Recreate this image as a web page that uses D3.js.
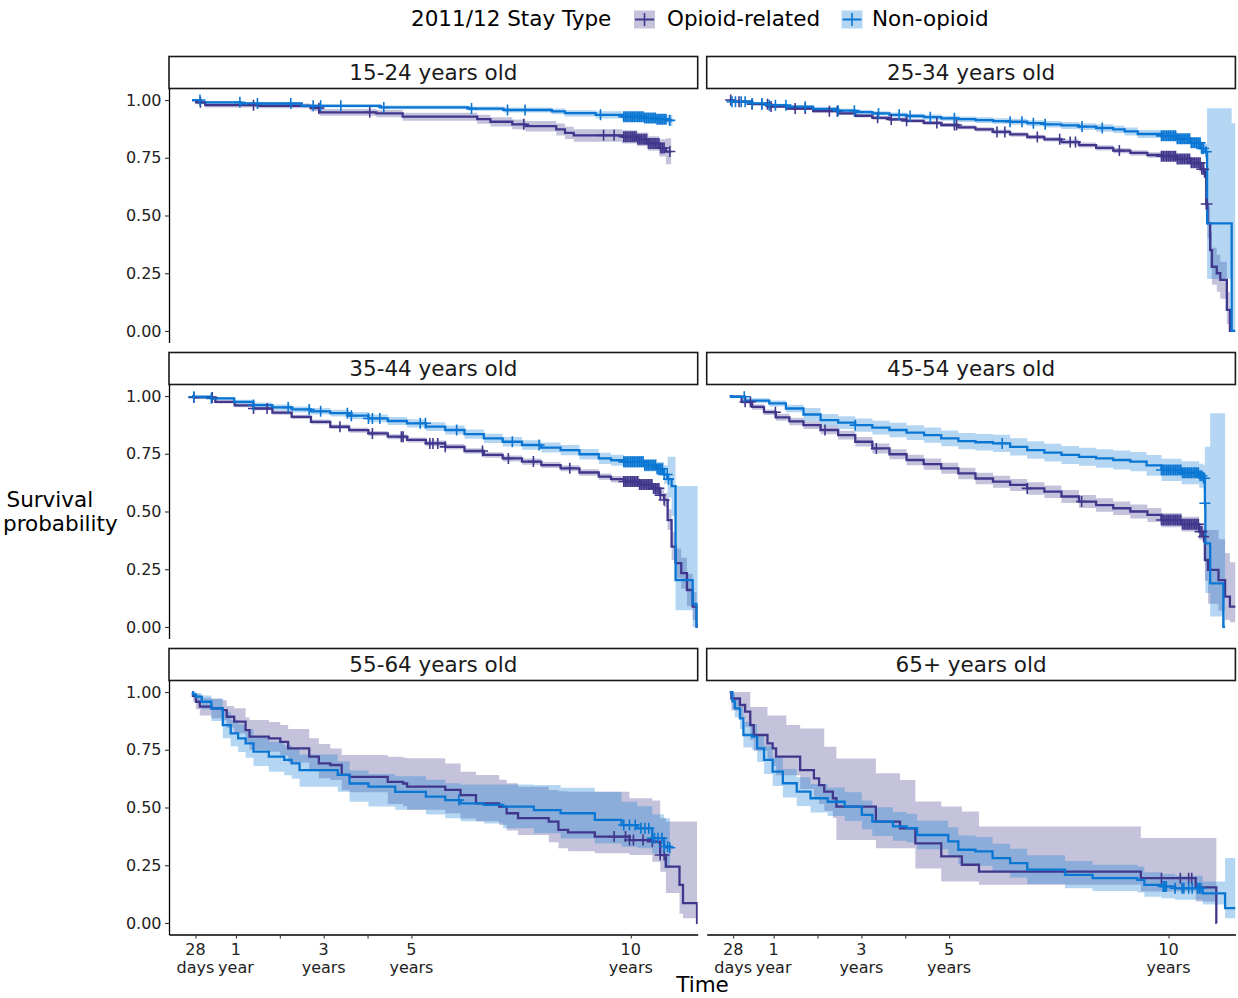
<!DOCTYPE html>
<html><head><meta charset="utf-8">
<script src="https://cdn.jsdelivr.net/npm/d3@7"></script>
<style>body{margin:0;background:#fff} svg{display:block;font-family:"DejaVu Sans",sans-serif}</style>
</head><body><svg id="chart" width="1238" height="998"></svg>
<script>
// ---------------- DATA ----------------
const ageGroups = ["15-24 years old","25-34 years old","35-44 years old","45-54 years old","55-64 years old","65+ years old"];
const seriesNames = ["Opioid-related","Non-opioid"];
const legendTitle = "2011/12 Stay Type";
const yTickValues = [0, 0.25, 0.5, 0.75, 1];
const yTickLabels = ["0.00","0.25","0.50","0.75","1.00"];
const xTickValues = [28/365.25, 1, 2, 3, 4, 5, 10];   // years
const xTickLabels = [["28","days"],["1","year"],["",""],["3","years"],["",""],["5","years"],["10","years"]];

// rows: [time (years), survival, lower CI, upper CI]
const opioid_15_24 = [
 [0,1,1,1],[0.1,0.990,0.982,0.996],[0.3,0.978,0.968,0.988],[1.5,0.975,0.964,0.985],[2.7,0.965,0.952,0.977],
 [2.9,0.947,0.932,0.961],[4.2,0.942,0.926,0.957],[4.8,0.928,0.910,0.945],[6.5,0.917,0.897,0.936],[6.8,0.906,0.885,0.926],
 [7.3,0.895,0.873,0.916],[7.6,0.887,0.864,0.909],[8.3,0.873,0.847,0.898],[8.5,0.858,0.831,0.884],[8.7,0.847,0.819,0.874],
 [9.8,0.841,0.812,0.869],[10.15,0.830,0.800,0.859],[10.4,0.812,0.780,0.843],[10.65,0.792,0.755,0.830],[10.8,0.777,0.722,0.835],[10.92,0.777,0.722,0.835]];
const nonopioid_15_24 = [
 [0,1,1,1],[0.2,0.990,0.985,0.995],[1.1,0.985,0.979,0.990],[2.5,0.975,0.968,0.982],[4.3,0.968,0.960,0.976],
 [6.3,0.963,0.954,0.972],[7.1,0.957,0.946,0.968],[8.2,0.951,0.938,0.963],[8.5,0.943,0.929,0.956],[9.2,0.936,0.920,0.951],
 [9.8,0.928,0.911,0.944],[10.3,0.922,0.903,0.939],[10.6,0.917,0.896,0.936],[10.85,0.912,0.888,0.935],[10.95,0.912,0.888,0.935]];
const censOpioid_15_24 = [0.19,1.40,2.89,4.05,7.56,9.38,9.62,9.84,9.88,9.92,9.96,10.00,10.04,10.08,10.12,10.16,10.20,10.24,10.28,10.32,10.36,10.40,10.44,10.48,10.52,10.56,10.60,10.64,10.68,10.72,10.76,10.89];
const censNonopioid_15_24 = [0.18,1.09,1.49,2.25,2.76,2.93,3.39,4.37,6.37,7.19,7.59,9.31,9.84,9.88,9.92,9.96,10.00,10.04,10.08,10.12,10.16,10.20,10.24,10.28,10.32,10.36,10.40,10.44,10.48,10.52,10.56,10.60,10.64,10.68,10.72,10.76,10.80,10.89];

const opioid_25_34 = [
 [0,1,1,1],[0.05,0.993,0.989,0.997],[0.51,0.982,0.977,0.987],[0.9,0.972,0.967,0.977],[1.29,0.963,0.957,0.969],[1.9,0.952,0.945,0.959],
 [2.47,0.942,0.935,0.949],[2.86,0.932,0.924,0.940],[3.25,0.923,0.915,0.931],[3.64,0.916,0.908,0.924],[4.03,0.910,0.902,0.918],
 [4.42,0.901,0.892,0.910],[4.82,0.892,0.883,0.901],[5.21,0.882,0.873,0.891],[5.6,0.873,0.864,0.882],[6.0,0.862,0.852,0.872],
 [6.39,0.851,0.841,0.861],[6.78,0.840,0.830,0.850],[7.17,0.830,0.820,0.840],[7.56,0.818,0.807,0.829],[7.96,0.805,0.794,0.816],
 [8.35,0.793,0.782,0.804],[8.74,0.781,0.770,0.792],[9.13,0.771,0.759,0.783],[9.52,0.762,0.750,0.774],[9.84,0.757,0.745,0.769],
 [10.2,0.745,0.732,0.758],[10.5,0.728,0.714,0.742],[10.73,0.700,0.684,0.716],[10.83,0.668,0.640,0.696],[10.86,0.550,0.500,0.610],
 [10.89,0.467,0.400,0.540],[10.95,0.350,0.270,0.430],[10.99,0.278,0.200,0.360],[11.10,0.250,0.170,0.330],[11.18,0.221,0.140,0.300],
 [11.33,0.091,0.030,0.170],[11.40,0,0,0],[11.42,0,0,0]];
const nonopioid_25_34 = [
 [0,1,1,1],[0.05,0.993,0.988,0.997],[0.51,0.985,0.979,0.990],[0.9,0.978,0.972,0.984],[1.29,0.971,0.964,0.978],[1.9,0.962,0.955,0.969],
 [2.47,0.954,0.946,0.962],[2.86,0.948,0.939,0.957],[3.25,0.942,0.933,0.951],[3.64,0.936,0.926,0.946],[4.03,0.931,0.921,0.941],
 [4.42,0.926,0.915,0.937],[4.82,0.921,0.910,0.932],[5.21,0.917,0.905,0.929],[5.6,0.913,0.901,0.925],[6.0,0.909,0.897,0.921],
 [6.39,0.906,0.893,0.919],[6.78,0.900,0.887,0.913],[7.17,0.895,0.881,0.909],[7.56,0.890,0.875,0.905],[7.96,0.885,0.870,0.900],
 [8.35,0.879,0.863,0.895],[8.74,0.873,0.857,0.889],[9.0,0.864,0.847,0.881],[9.3,0.853,0.836,0.870],[9.84,0.845,0.827,0.863],
 [10.2,0.832,0.812,0.852],[10.5,0.815,0.793,0.837],[10.73,0.790,0.765,0.815],[10.85,0.776,0.740,0.810],[10.88,0.466,0.225,0.965],
 [11.44,0,0,0.900],[11.53,0,0,0.900]];
const censOpioid_25_34 = [0.02,0.21,0.51,0.73,0.86,0.94,1.49,1.72,2.27,2.45,3.37,3.68,4.03,4.72,5.12,5.17,6.09,6.27,7.01,7.52,7.76,7.88,8.88,9.84,9.88,9.92,9.96,10.00,10.04,10.08,10.12,10.16,10.20,10.24,10.28,10.32,10.36,10.40,10.44,10.48,10.52,10.56,10.60,10.64,10.68,10.72,10.76,10.80,10.86,10.88];
const censNonopioid_25_34 = [0.05,0.13,0.26,0.35,0.51,0.73,0.90,1.04,1.28,1.72,2.47,2.84,3.39,3.86,4.11,4.57,5.12,6.39,6.66,6.92,7.19,8.03,8.49,9.84,9.88,9.92,9.96,10.00,10.04,10.08,10.12,10.16,10.20,10.24,10.28,10.32,10.36,10.40,10.44,10.48,10.52,10.56,10.60,10.64,10.68,10.72,10.76,10.80,10.86];

const opioid_35_44 = [
 [0,1,1,1],[0.04,0.994,0.989,0.998],[0.53,0.975,0.968,0.982],[0.97,0.960,0.952,0.968],[1.4,0.946,0.938,0.954],[1.83,0.928,0.919,0.937],
 [2.27,0.910,0.901,0.919],[2.71,0.888,0.878,0.898],[3.15,0.867,0.857,0.877],[3.58,0.852,0.841,0.863],[4.02,0.838,0.827,0.849],
 [4.46,0.824,0.813,0.835],[4.9,0.810,0.799,0.821],[5.33,0.795,0.783,0.807],[5.77,0.780,0.768,0.792],[6.21,0.762,0.750,0.774],
 [6.65,0.745,0.733,0.757],[7.08,0.730,0.717,0.743],[7.52,0.716,0.703,0.729],[7.96,0.701,0.688,0.714],[8.4,0.687,0.674,0.700],
 [8.83,0.669,0.655,0.683],[9.27,0.651,0.637,0.665],[9.55,0.640,0.626,0.654],[9.84,0.630,0.616,0.644],[10.2,0.617,0.602,0.632],
 [10.5,0.600,0.583,0.617],[10.67,0.571,0.550,0.592],[10.76,0.550,0.520,0.580],[10.84,0.463,0.420,0.510],[10.93,0.348,0.290,0.410],
 [11.02,0.276,0.210,0.340],[11.15,0.233,0.165,0.300],[11.28,0.160,0.090,0.230],[11.41,0.088,0.030,0.150],[11.50,0,0,0],[11.53,0,0,0]];
const nonopioid_35_44 = [
 [0,1,1,1],[0.04,0.997,0.993,1.0],[0.44,0.990,0.983,0.996],[0.96,0.975,0.966,0.984],[1.40,0.961,0.950,0.972],[1.83,0.951,0.939,0.963],
 [2.27,0.942,0.929,0.955],[2.71,0.934,0.920,0.948],[3.15,0.926,0.911,0.941],[3.58,0.915,0.899,0.931],[4.02,0.903,0.886,0.920],
 [4.46,0.892,0.875,0.909],[4.9,0.882,0.864,0.900],[5.33,0.868,0.849,0.887],[5.77,0.853,0.834,0.872],[6.21,0.835,0.815,0.855],
 [6.65,0.817,0.797,0.837],[7.08,0.802,0.781,0.823],[7.52,0.788,0.767,0.809],[7.96,0.777,0.755,0.799],[8.4,0.766,0.744,0.788],
 [8.83,0.748,0.725,0.771],[9.27,0.730,0.706,0.754],[9.55,0.722,0.698,0.746],[9.84,0.715,0.690,0.740],
 [10.3,0.700,0.673,0.727],[10.6,0.685,0.656,0.714],[10.76,0.660,0.620,0.700],[10.84,0.640,0.560,0.737],[10.93,0.610,0.480,0.737],
 [11.02,0.203,0.072,0.610],[11.41,0.100,0,0.610],[11.50,0,0,0.610],[11.53,0,0,0.610]];
const censOpioid_35_44 = [0.04,0.46,1.40,1.71,3.37,4.11,4.77,4.81,5.42,5.49,5.60,5.77,6.62,7.21,7.78,8.61,9.84,9.88,9.92,9.96,10.00,10.04,10.08,10.12,10.16,10.20,10.24,10.28,10.32,10.36,10.40,10.44,10.48,10.52,10.56,10.60,10.64,10.67,10.76];
const censNonopioid_35_44 = [0.04,0.44,1.40,2.19,2.67,2.93,3.54,3.63,4.02,4.11,4.28,5.20,5.32,6.03,7.30,7.91,9.84,9.88,9.92,9.96,10.00,10.04,10.08,10.12,10.16,10.20,10.24,10.28,10.32,10.36,10.40,10.44,10.48,10.52,10.56,10.60,10.64,10.68,10.72,10.76,10.83,10.86];

const opioid_45_54 = [
 [0,1,1,1],[0.04,0.997,0.993,1.0],[0.27,0.975,0.967,0.983],[0.51,0.953,0.941,0.965],[0.78,0.930,0.918,0.942],[1.05,0.908,0.893,0.923],
 [1.36,0.890,0.874,0.906],[1.68,0.874,0.857,0.891],[2.07,0.853,0.835,0.871],[2.47,0.831,0.812,0.850],[2.86,0.802,0.781,0.823],
 [3.25,0.773,0.751,0.795],[3.64,0.748,0.726,0.770],[4.03,0.723,0.700,0.746],[4.42,0.705,0.681,0.729],[4.82,0.687,0.663,0.711],
 [5.21,0.665,0.640,0.690],[5.6,0.643,0.618,0.668],[6.0,0.629,0.603,0.655],[6.39,0.615,0.589,0.641],[6.78,0.600,0.573,0.627],
 [7.17,0.586,0.559,0.613],[7.56,0.565,0.537,0.593],[7.96,0.543,0.515,0.571],[8.35,0.528,0.499,0.557],[8.74,0.514,0.485,0.543],
 [9.13,0.500,0.470,0.530],[9.52,0.485,0.455,0.515],[9.84,0.463,0.432,0.494],[10.3,0.445,0.413,0.477],[10.7,0.413,0.378,0.448],
 [10.80,0.391,0.350,0.432],[10.83,0.290,0.200,0.420],[10.90,0.247,0.100,0.420],[11.14,0.203,0.070,0.380],[11.29,0.131,0.030,0.320],
 [11.40,0.088,0.020,0.280],[11.53,0.088,0.020,0.280]];
const nonopioid_45_54 = [
 [0,1,1,1],[0.04,0.997,0.994,1.0],[0.35,0.980,0.970,0.990],[0.9,0.968,0.955,0.981],[1.28,0.946,0.930,0.962],[1.68,0.920,0.892,0.948],
 [2.07,0.896,0.870,0.922],[2.47,0.885,0.857,0.913],[2.86,0.874,0.845,0.903],[3.25,0.863,0.833,0.893],[3.64,0.853,0.822,0.884],
 [4.03,0.842,0.810,0.874],[4.43,0.831,0.798,0.864],[4.82,0.817,0.783,0.851],[5.21,0.805,0.770,0.840],[5.6,0.800,0.764,0.836],
 [6.0,0.795,0.758,0.832],[6.39,0.780,0.743,0.817],[6.78,0.766,0.728,0.804],[7.17,0.755,0.717,0.793],[7.56,0.745,0.706,0.784],
 [7.96,0.737,0.698,0.776],[8.35,0.730,0.690,0.770],[8.74,0.723,0.682,0.764],[9.13,0.716,0.674,0.758],[9.5,0.700,0.655,0.745],
 [9.84,0.680,0.632,0.728],[10.3,0.668,0.618,0.718],[10.7,0.655,0.603,0.707],[10.80,0.644,0.590,0.700],
 [10.83,0.536,0.300,0.780],[10.84,0.362,0.147,0.780],[10.95,0.189,0.045,0.925],[11.25,0,0,0.925],[11.29,0,0,0]];
const censOpioid_45_54 = [0.35,0.47,1.04,2.17,3.34,6.78,8.02,9.84,9.88,9.92,9.96,10.00,10.04,10.08,10.12,10.16,10.20,10.24,10.28,10.32,10.36,10.40,10.44,10.48,10.52,10.56,10.60,10.64,10.68,10.72,10.76,10.80];
const censNonopioid_45_54 = [0.33,2.86,6.21,9.84,9.88,9.92,9.96,10.00,10.04,10.08,10.12,10.16,10.20,10.24,10.28,10.32,10.36,10.40,10.44,10.48,10.52,10.56,10.60,10.64,10.68,10.72,10.76,10.80,10.82,10.83];

const opioid_55_64 = [
 [0,1,1,1],[0.02,0.984,0.960,0.998],[0.088,0.958,0.925,0.990],[0.176,0.937,0.898,0.975],[0.44,0.929,0.887,0.972],
 [0.70,0.922,0.878,0.965],[0.79,0.893,0.845,0.940],[0.96,0.872,0.821,0.930],[1.22,0.835,0.781,0.890],[1.31,0.807,0.750,0.879],
 [1.75,0.799,0.741,0.870],[2.01,0.784,0.725,0.857],[2.19,0.756,0.695,0.840],[2.67,0.720,0.657,0.800],[2.89,0.691,0.627,0.775],
 [3.15,0.684,0.619,0.756],[3.41,0.641,0.575,0.727],[3.59,0.633,0.566,0.727],[4.46,0.611,0.515,0.720],[4.81,0.604,0.505,0.715],
 [4.90,0.590,0.490,0.713],[5.77,0.576,0.475,0.691],[6.12,0.554,0.452,0.655],[6.47,0.518,0.440,0.641],[7.00,0.504,0.424,0.620],
 [7.17,0.475,0.400,0.605],[7.43,0.454,0.381,0.590],[8.13,0.439,0.350,0.576],[8.35,0.403,0.323,0.570],[8.57,0.392,0.310,0.568],
 [9.18,0.374,0.302,0.568],[9.97,0.359,0.294,0.540],[10.49,0.352,0.265,0.530],[10.67,0.294,0.222,0.453],[10.80,0.244,0.130,0.439],
 [11.11,0.165,0.040,0.439],[11.19,0.086,0.020,0.439],[11.51,0,0,0],[11.53,0,0,0]];
const nonopioid_55_64 = [
 [0,1,1,1],[0.02,0.990,0.975,0.999],[0.088,0.980,0.955,0.995],[0.22,0.958,0.925,0.985],[0.44,0.929,0.875,0.970],
 [0.70,0.857,0.800,0.915],[0.88,0.821,0.765,0.880],[1.05,0.799,0.740,0.860],[1.22,0.778,0.715,0.840],[1.40,0.742,0.680,0.805],
 [1.75,0.720,0.655,0.785],[2.10,0.706,0.640,0.770],[2.27,0.691,0.625,0.755],[2.45,0.662,0.590,0.730],[3.32,0.641,0.568,0.700],
 [3.59,0.604,0.525,0.660],[4.02,0.590,0.504,0.645],[4.63,0.568,0.490,0.635],[5.33,0.547,0.470,0.620],[5.77,0.532,0.453,0.605],
 [6.12,0.518,0.440,0.600],[6.65,0.511,0.431,0.600],[7.09,0.504,0.410,0.600],[7.79,0.489,0.388,0.597],[8.40,0.475,0.366,0.585],
 [9.18,0.446,0.344,0.568],[9.79,0.424,0.330,0.525],[10.15,0.410,0.323,0.505],[10.49,0.367,0.301,0.470],[10.76,0.331,0.237,0.453],
 [10.89,0.326,0.237,0.453]];
const censOpioid_55_64 = [9.62,9.88,9.97,10.06,10.28,10.49,10.67,10.76];
const censNonopioid_55_64 = [6.08,9.84,9.97,10.10,10.23,10.32,10.41,10.49,10.54,10.62,10.71,10.76,10.84,10.89];

const opioid_65_plus = [
 [0,1,1,1],[0.036,0.972,0.920,1.0],[0.232,0.944,0.886,1.0],[0.350,0.915,0.850,1.0],[0.467,0.857,0.792,0.935],
 [0.546,0.814,0.745,0.935],[0.859,0.778,0.705,0.898],[0.977,0.756,0.680,0.898],[1.055,0.720,0.640,0.898],[1.29,0.720,0.640,0.857],
 [1.604,0.662,0.580,0.842],[1.918,0.626,0.545,0.842],[2.036,0.597,0.515,0.842],[2.153,0.569,0.485,0.763],[2.35,0.540,0.455,0.763],
 [2.43,0.504,0.359,0.712],[3.33,0.439,0.323,0.648],[3.88,0.410,0.323,0.619],[4.23,0.345,0.236,0.526],[4.82,0.288,0.179,0.504],
 [5.29,0.252,0.179,0.483],[5.68,0.222,0.165,0.418],[9.37,0.194,0.136,0.368],[10.62,0.154,0.093,0.368],[11.09,0,0,0],[11.10,0,0,0]];
const nonopioid_65_plus = [
 [0,1,1,1],[0.06,0.960,0.930,0.995],[0.114,0.929,0.890,0.975],[0.232,0.886,0.840,0.935],[0.311,0.814,0.760,0.870],
 [0.507,0.807,0.750,0.862],[0.624,0.756,0.697,0.815],[0.781,0.706,0.645,0.767],[0.977,0.655,0.593,0.717],[1.21,0.605,0.543,0.667],
 [1.526,0.569,0.507,0.631],[1.84,0.540,0.478,0.602],[2.23,0.525,0.463,0.587],[2.62,0.504,0.442,0.566],[3.01,0.468,0.406,0.530],
 [3.25,0.439,0.377,0.501],[3.72,0.418,0.356,0.480],[4.03,0.411,0.349,0.473],[4.27,0.381,0.319,0.443],[4.98,0.353,0.291,0.415],
 [5.21,0.317,0.255,0.379],[5.60,0.310,0.248,0.372],[5.99,0.281,0.219,0.343],[6.39,0.259,0.197,0.321],[6.78,0.231,0.169,0.293],
 [7.64,0.208,0.150,0.268],[8.27,0.194,0.138,0.252],[9.29,0.187,0.132,0.244],[9.45,0.165,0.113,0.220],[9.84,0.158,0.107,0.212],
 [10.15,0.150,0.100,0.204],[10.78,0.128,0.080,0.180],[11.29,0.064,0.020,0.281],[11.53,0.064,0.020,0.281]];
const censOpioid_65_plus = [9.84,10.27,10.46,10.53];
const censNonopioid_65_plus = [9.88,9.91,9.95,10.15,10.31,10.35,10.46,10.54,10.66,10.70,10.74];

// ---------------- LAYOUT / STYLE ----------------
const colors = {opi: "#40378c", non: "#0a76d4"};
const ribbonOpacity = 0.3;
const panels = [
  {label: ageGroups[0], opi: opioid_15_24, non: nonopioid_15_24, copi: censOpioid_15_24, cnon: censNonopioid_15_24},
  {label: ageGroups[1], opi: opioid_25_34, non: nonopioid_25_34, copi: censOpioid_25_34, cnon: censNonopioid_25_34},
  {label: ageGroups[2], opi: opioid_35_44, non: nonopioid_35_44, copi: censOpioid_35_44, cnon: censNonopioid_35_44},
  {label: ageGroups[3], opi: opioid_45_54, non: nonopioid_45_54, copi: censOpioid_45_54, cnon: censNonopioid_45_54},
  {label: ageGroups[4], opi: opioid_55_64, non: nonopioid_55_64, copi: censOpioid_55_64, cnon: censNonopioid_55_64},
  {label: ageGroups[5], opi: opioid_65_plus, non: nonopioid_65_plus, copi: censOpioid_65_plus, cnon: censNonopioid_65_plus}
];

const svg = d3.select("#chart");
const colX = [169, 706.7], panelW = 528.7, panelH = 254, stripH = 32;
const rowTop = [88.5, 384.5, 680.5];
const xDomain = [-0.526, 11.525], yDomain = [-0.05, 1.05];
const bis = d3.bisector(d => d[0]).right;
const plus = (cx, cy, h) => `M${cx-h},${cy}H${cx+h}M${cx},${cy-h}V${cy+h}`;

panels.forEach((p, i) => {
  const col = i % 2, row = Math.floor(i / 2);
  const x0 = colX[col], top = rowTop[row], bottom = top + panelH;
  const x = d3.scaleLinear().domain(xDomain).range([x0, x0 + panelW]);
  const y = d3.scaleLinear().domain(yDomain).range([bottom, top]);
  const clipId = "clip" + i;
  svg.append("clipPath").attr("id", clipId).append("rect")
    .attr("x", x0).attr("y", top).attr("width", panelW).attr("height", panelH);
  const g = svg.append("g").attr("clip-path", `url(#${clipId})`);
  const area = d3.area().curve(d3.curveStepAfter).x(d => x(d[0])).y0(d => y(d[2])).y1(d => y(d[3]));
  const line = d3.line().curve(d3.curveStepAfter).x(d => x(d[0])).y(d => y(d[1]));
  [["opi", p.opi], ["non", p.non]].forEach(([k, data]) => {
    g.append("path").attr("d", area(data)).attr("fill", colors[k]).attr("fill-opacity", ribbonOpacity);
  });
  [["opi", p.opi], ["non", p.non]].forEach(([k, data]) => {
    g.append("path").attr("d", line(data)).attr("fill", "none").attr("stroke", colors[k])
      .attr("stroke-width", 2.3).attr("stroke-linejoin", "miter");
  });
  [["opi", p.opi, p.copi], ["non", p.non, p.cnon]].forEach(([k, data, cens]) => {
    const d = cens.map(t => {
      const idx = Math.max(0, bis(data, t) - 1);
      return plus(x(t), y(data[idx][1]), 5.5);
    }).join("");
    g.append("path").attr("d", d).attr("fill", "none").attr("stroke", colors[k]).attr("stroke-width", 1.6);
  });

  // strip
  svg.append("rect").attr("x", x0).attr("y", top - stripH).attr("width", panelW).attr("height", stripH)
    .attr("fill", "#fff").attr("stroke", "#1a1a1a").attr("stroke-width", 1.6);
  svg.append("text").attr("x", x0 + panelW / 2).attr("y", top - stripH / 2).attr("dy", "0.36em")
    .attr("text-anchor", "middle").attr("font-size", 21.5).attr("fill", "#1a1a1a").text(p.label);

  // y axis on left column
  if (col === 0) {
    const ax = svg.append("g").attr("transform", `translate(${x0},0)`)
      .call(d3.axisLeft(y).tickValues(yTickValues).tickFormat((d, j) => yTickLabels[j]).tickSize(4).tickSizeOuter(0).tickPadding(3.5));
    ax.select(".domain").attr("stroke", "#000").attr("stroke-width", 1.3);
    ax.selectAll(".tick line").attr("stroke", "#333").attr("stroke-width", 1.1);
    ax.selectAll(".tick text").attr("font-size", 16).attr("fill", "#222").attr("font-family", "DejaVu Sans");
  }
  // x axis on bottom row
  if (row === 2) {
    const ax = svg.append("g").attr("transform", `translate(0,${bottom})`)
      .call(d3.axisBottom(x).tickValues(xTickValues).tickFormat(() => "").tickSize(4).tickSizeOuter(0));
    ax.select(".domain").attr("stroke", "#000").attr("stroke-width", 1.3);
    ax.selectAll(".tick line").attr("stroke", "#333").attr("stroke-width", 1.1);
    xTickValues.forEach((v, j) => {
      const t = svg.append("text").attr("x", x(v)).attr("text-anchor", "middle")
        .attr("font-size", 16).attr("fill", "#222");
      t.append("tspan").attr("x", x(v)).attr("y", bottom + 20).text(xTickLabels[j][0]);
      t.append("tspan").attr("x", x(v)).attr("y", bottom + 38).text(xTickLabels[j][1]);
    });
  }
});

// axis titles
svg.append("text").attr("x", 702.5).attr("y", 992).attr("text-anchor", "middle").attr("font-size", 21.5).attr("fill", "#000").text("Time");
svg.append("text").attr("x", 6.5).attr("y", 507).attr("font-size", 21.5).attr("fill", "#000").text("Survival");
svg.append("text").attr("x", 3).attr("y", 531).attr("font-size", 21.5).attr("fill", "#000").text("probability");

// legend
svg.append("text").attr("x", 411).attr("y", 26).attr("font-size", 21.5).attr("fill", "#000").text(legendTitle);
const legendItems = [{k: "opi", kx: 634, tx: 667}, {k: "non", kx: 841.5, tx: 872}];
legendItems.forEach((it, j) => {
  svg.append("rect").attr("x", it.kx).attr("y", 10.5).attr("width", 21).attr("height", 18)
    .attr("fill", colors[it.k]).attr("fill-opacity", ribbonOpacity);
  svg.append("path").attr("d", `M${it.kx + 1},19.5H${it.kx + 20}`).attr("stroke", colors[it.k]).attr("stroke-width", 2);
  svg.append("path").attr("d", `M${it.kx + 10.5},13V26`).attr("stroke", colors[it.k]).attr("stroke-width", 1.6);
  svg.append("text").attr("x", it.tx).attr("y", 26).attr("font-size", 21.5).attr("fill", "#000").text(seriesNames[j]);
});
</script></body></html>
